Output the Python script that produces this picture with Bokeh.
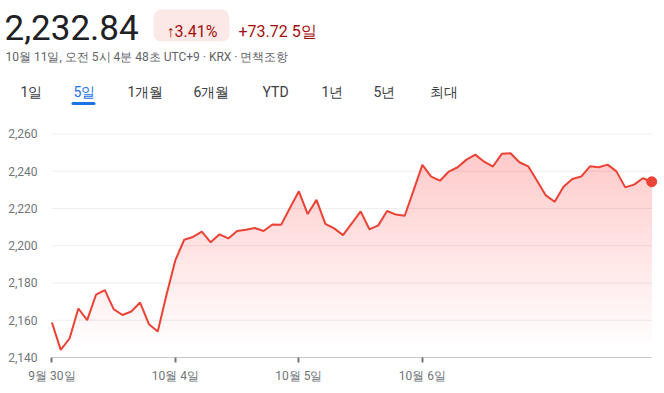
import numpy as np
from bokeh.plotting import figure
from bokeh.layouts import column
from bokeh.models import Range1d, FixedTicker, NumeralTickFormatter
from bokeh.core.properties import value
from bokeh.embed import file_html
from bokeh.resources import INLINE

# ---- data ----
prices = [2158.8, 2144.1, 2150.2, 2166.3, 2160.1, 2173.7, 2176.2, 2166.0, 2162.8, 2164.7,
          2169.5, 2157.9, 2154.0, 2173.8,
          2192.3, 2203.2, 2204.7, 2207.5, 2201.8, 2206.1, 2203.9, 2207.9, 2208.6, 2209.5,
          2207.9, 2211.4, 2211.3, 2220.4,
          2229.2, 2217.0, 2224.6, 2211.7, 2209.3, 2205.7, 2212.0, 2218.4, 2208.8, 2210.9,
          2218.6, 2216.7, 2216.1, 2229.7,
          2243.4, 2237.1, 2234.9, 2239.8, 2242.1, 2246.2, 2248.9, 2245.1, 2242.5, 2249.3,
          2249.6, 2244.8, 2242.6, 2234.9,
          2227.0, 2223.6, 2231.7, 2235.8, 2237.1, 2242.6, 2242.1, 2243.5, 2239.9, 2231.3,
          2232.8, 2236.2, 2234.3]
x_idx = list(range(len(prices)))
date_ticks = [0, 14, 28, 42]
date_labels = ["9월 30일", "10월 4일", "10월 5일", "10월 6일"]
y_ticks = [2140, 2160, 2180, 2200, 2220, 2240, 2260]

last_price = "2,232.84"
pct_change = "↑3.41%"
abs_change = "+73.72 5일"
subtitle = "10월 11일, 오전 5시 4분 48초 UTC+9 · KRX · 면책조항"
tabs = ["1일", "5일", "1개월", "6개월", "YTD", "1년", "5년", "최대"]
tab_x = [20, 73, 127, 193, 262, 321, 373, 429]
selected_tab = 1

FONT = value("Roboto")
RED = "#ea4335"
W = 664
HEAD_H = 108

# ---- header ----
head = figure(width=W, height=HEAD_H, x_range=Range1d(0, W), y_range=Range1d(HEAD_H, 0),
              output_backend="svg", toolbar_location=None,
              x_axis_location=None, y_axis_location=None, min_border=0)
head.grid.visible = False
head.outline_line_color = None

head.text(x=[4], y=[27], text=[last_price], text_font=FONT, text_font_size="35px",
          text_color="#202124", text_baseline="middle")
head.quad(left=[153], right=[229], top=[9], bottom=[41], fill_color="#fce8e6",
          line_color=None, border_radius=8)
head.text(x=[191.5], y=[30.5], text=[pct_change], text_font=FONT, text_font_size="16px",
          text_color="#a50e0e", text_align="center", text_baseline="middle")
head.text(x=[238], y=[30.5], text=[abs_change], text_font=FONT, text_font_size="16px",
          text_color="#a50e0e", text_baseline="middle")
head.text(x=[5], y=[56], text=[subtitle], text_font=FONT, text_font_size="12px",
          text_color="#5f6368", text_baseline="middle")
tab_colors = ["#1a73e8" if i == selected_tab else "#3c4043" for i in range(len(tabs))]
head.text(x=tab_x, y=[91] * len(tabs), text=tabs, text_font=FONT, text_font_size="14px",
          text_color=tab_colors, text_baseline="middle")
head.quad(left=[71], right=[95], top=[101.5], bottom=[104.5], fill_color="#1a73e8",
          line_color=None, border_radius=2)

# ---- chart ----
p = figure(width=W, height=393 - HEAD_H, x_range=Range1d(-0.5, 69.45),
           y_range=Range1d(2140, 2267.2),
           output_backend="svg", toolbar_location=None,
           min_border_left=47, min_border_right=0, min_border_top=12, min_border_bottom=36)
p.outline_line_color = None
p.grid.visible = False

xs = np.array(x_idx, dtype=float)
ys = np.array(prices)

p.segment(x0=[xs[0]] * len(y_ticks), x1=[xs[-1]] * len(y_ticks), y0=y_ticks, y1=y_ticks,
          line_color="#eeeeee", line_width=1)

for lvl in np.arange(2146, 2252, 4):
    p.varea(x=xs, y1=ys, y2=np.minimum(ys, lvl), fill_color=RED, fill_alpha=0.012)

p.segment(x0=[xs[0]], x1=[xs[-1]], y0=[y_ticks[0]], y1=[y_ticks[0]],
          line_color="#9aa0a6", line_width=1)

p.line(xs, ys, line_color=RED, line_width=2)
p.scatter(xs[-1:], ys[-1:], size=10, fill_color=RED, line_color=RED)

p.xaxis.ticker = FixedTicker(ticks=date_ticks)
p.xaxis.major_label_overrides = {t: l for t, l in zip(date_ticks, date_labels)}
p.xaxis.axis_line_color = None
p.xaxis.major_tick_in = 0
p.xaxis.major_tick_out = 5
p.xaxis.major_tick_line_color = "#70757a"
p.xaxis.major_tick_line_width = 2
p.xaxis.minor_tick_line_color = None
p.xaxis.major_label_standoff = 6
p.xaxis.major_label_text_font = "Roboto"
p.xaxis.major_label_text_font_size = "12px"
p.xaxis.major_label_text_color = "#70757a"

p.yaxis.ticker = FixedTicker(ticks=y_ticks)
p.yaxis.formatter = NumeralTickFormatter(format="0,0")
p.yaxis.axis_line_color = None
p.yaxis.major_tick_line_color = None
p.yaxis.minor_tick_line_color = None
p.yaxis.major_label_standoff = 4
p.yaxis.major_label_text_font = "Roboto"
p.yaxis.major_label_text_font_size = "12px"
p.yaxis.major_label_text_color = "#70757a"

layout = column(column(head), p, spacing=0)
open("out.html", "w").write(file_html(layout, INLINE))
